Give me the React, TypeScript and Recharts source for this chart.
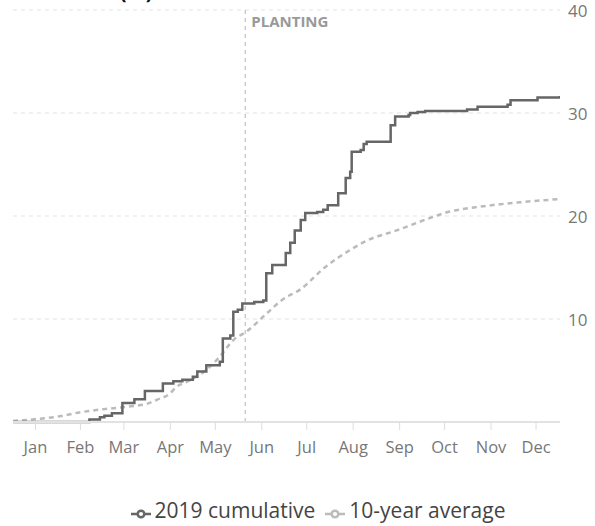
import { LineChart, Line, XAxis, YAxis, CartesianGrid, ReferenceLine, Legend } from "recharts";

// day of year -> cumulative inches, 2019
const days2019 = [0, 45, 51, 58, 61, 66, 73, 81, 88, 100, 107, 113, 120, 123, 129, 138, 140, 145, 147, 150, 153, 161, 167, 169, 173, 182, 185, 188, 192, 195, 203, 207, 210, 217, 222, 225, 226, 232, 234, 236, 252, 255, 264, 265, 270, 275, 303, 310, 330, 332, 350, 363, 365];
const values2019 = [0, 0, 0.25, 0.45, 0.6, 0.85, 1.85, 2.2, 3.0, 3.75, 3.95, 4.1, 4.4, 4.9, 5.5, 5.85, 8.1, 8.4, 10.7, 10.9, 11.5, 11.65, 11.8, 14.45, 15.25, 16.4, 17.4, 18.6, 19.6, 20.3, 20.4, 20.6, 21.05, 22.2, 23.7, 24.3, 26.25, 26.4, 27.0, 27.2, 28.8, 29.65, 29.8, 30.0, 30.1, 30.2, 30.35, 30.6, 30.8, 31.25, 31.5, 31.5, 31.65];

// 10-year average
const daysAvg = [0, 13, 31, 45, 58, 71, 80, 89, 96, 105, 109, 116, 129, 138, 147, 156, 169, 180, 192, 208, 225, 236, 256, 280, 287, 314, 336, 365];
const valuesAvg = [0.1, 0.25, 0.55, 0.95, 1.2, 1.4, 1.55, 1.75, 2.15, 2.8, 3.4, 3.9, 5.05, 6.35, 7.95, 8.8, 10.5, 11.9, 12.9, 15.0, 16.7, 17.6, 18.6, 19.9, 20.25, 20.95, 21.3, 21.65];

const monthNames = ["Jan", "Feb", "Mar", "Apr", "May", "Jun", "Jul", "Aug", "Sep", "Oct", "Nov", "Dec"];
const monthMidDays = [15, 45, 74, 105, 135, 166, 196, 227, 258, 288, 319, 349];
const yTicks = [10, 20, 30, 40];
const plantingDay = 155;

const data2019 = days2019.map((d, i) => ({ day: d, value: values2019[i] }));
const dataAvg = daysAvg.map((d, i) => ({ day: d, value: valuesAvg[i] }));

// right-hand tick, left aligned next to the plot
function RightTick(props: any) {
  const { x, y, payload } = props;
  return (
    <text x={x} y={y} textAnchor="start" dominantBaseline="central" fill="#777" fontSize={17}>
      {payload.value}
    </text>
  );
}

export default function App() {
  return (
    <div style={{ position: "absolute", left: 0, top: 0, width: 595, height: 526, fontFamily: "'Open Sans', sans-serif", overflow: "hidden" }}>
      {/* title, mostly cut off above the frame */}
      <div style={{ position: "absolute", left: 38, top: -20, fontSize: 20, fontWeight: 700, lineHeight: "24px", color: "#111" }}>
        Rainfall (in)
      </div>
      <LineChart width={595} height={526} margin={{ top: 10, right: 0, bottom: 0, left: 13 }}>
        <CartesianGrid vertical={false} stroke="#e3e3e3" strokeDasharray="4 4" />
        <XAxis
          type="number"
          dataKey="day"
          domain={[0, 365]}
          ticks={monthMidDays}
          tickFormatter={(v) => monthNames[monthMidDays.indexOf(v)]}
          axisLine={{ stroke: "#e2e2e2", strokeWidth: 2 }}
          tickLine={{ stroke: "#dddddd" }}
          tickSize={8}
          tickMargin={11}
          tick={{ fill: "#777", fontSize: 16.5 }}
          height={74}
          allowDataOverflow
        />
        <YAxis
          orientation="right"
          domain={[0, 40]}
          ticks={yTicks}
          axisLine={false}
          tickLine={false}
          width={35}
          tick={<RightTick />}
        />
        <ReferenceLine
          x={plantingDay}
          stroke="#cccccc"
          strokeWidth={1.5}
          strokeDasharray="4 4"
          label={{ value: "PLANTING", position: "insideTopLeft", offset: 6, fill: "#999", fontSize: 15, fontWeight: 700 }}
        />
        <Line
          data={dataAvg}
          dataKey="value"
          name="10-year average"
          type="monotone"
          stroke="#bbbbbb"
          strokeWidth={2.5}
          strokeDasharray="5 4"
          dot={false}
          activeDot={false}
          isAnimationActive={false}
        />
        <Line
          data={data2019}
          dataKey="value"
          name="2019 cumulative"
          type="stepAfter"
          stroke="#666666"
          strokeWidth={2.5}
          dot={false}
          activeDot={false}
          isAnimationActive={false}
        />
        <Legend
          verticalAlign="bottom"
          iconType="line"
          iconSize={20}
          itemSorter={(item: any) => (item.value === "2019 cumulative" ? 0 : 1)}
          formatter={(value) => <span style={{ color: "#444", fontSize: 21 }}>{value}</span>}
          wrapperStyle={{ paddingBottom: 2, paddingLeft: 19 }}
        />
      </LineChart>
    </div>
  );
}
